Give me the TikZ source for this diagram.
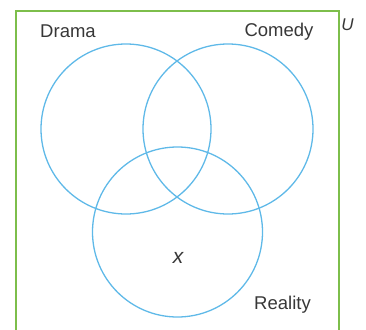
\documentclass[tikz,border=0pt]{standalone}
\usepackage{fontspec}
\setmainfont{Liberation Sans}
\begin{document}
\begin{tikzpicture}[x=1pt,y=-1pt,
  setcircle/.style={draw=setblue,line width=1.3pt,circle,minimum size=170pt,inner sep=0pt},
  lbl/.style={text=labelgray,inner sep=0pt,font=\fontsize{18.5}{20}\selectfont}]
\definecolor{setblue}{RGB}{95,185,232}
\definecolor{univgreen}{RGB}{125,190,75}
\definecolor{labelgray}{RGB}{55,55,55}
\useasboundingbox (0,0) rectangle (366,329);
\begin{scope}
\clip (0,0) rectangle (366,329);
\draw[univgreen,line width=1.5pt] (16,11) rectangle (339,345);
\end{scope}
\node[setcircle] (drama) at (126,129) {};
\node[setcircle] (comedy) at (228,129) {};
\node[setcircle] (reality) at (177.5,232) {};
\node[lbl] (dl) at (68,31) {Drama};
\node[lbl] (cl) at (279,31.5) {Comedy};
\node[lbl] (rl) at (282.5,305) {Reality};
\node[lbl,font=\fontsize{17}{19}\selectfont\itshape] (u) at (347.5,24.5) {U};
\node[lbl,font=\fontsize{21}{23}\selectfont\itshape] (x) at (178,258) {x};
\end{tikzpicture}
\end{document}
